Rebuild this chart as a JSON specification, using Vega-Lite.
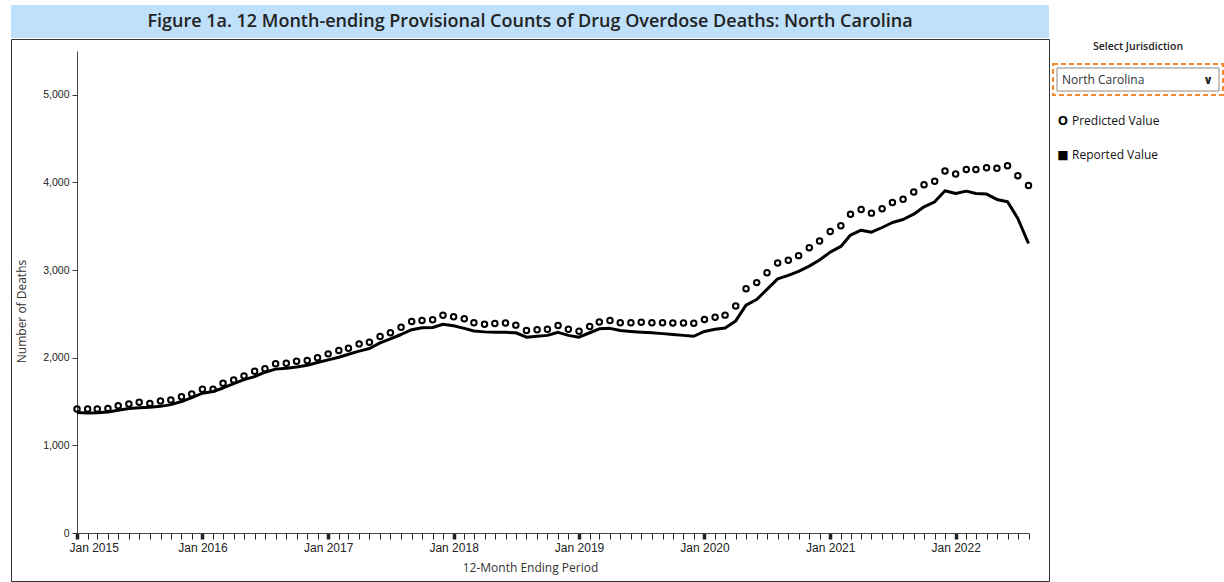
{
  "$schema": "https://vega.github.io/schema/vega-lite/v6.json",
  "padding": {"left": 10, "top": 5, "right": 0, "bottom": 0},
  "config": {"view": {"stroke": null}, "font": "Open Sans"},
  "datasets": {
    "nc": [
      {"m": "2015-01-01", "p": 1415, "r": 1376},
      {"m": "2015-02-01", "p": 1415, "r": 1370},
      {"m": "2015-03-01", "p": 1415, "r": 1372},
      {"m": "2015-04-01", "p": 1422, "r": 1380},
      {"m": "2015-05-01", "p": 1453, "r": 1400},
      {"m": "2015-06-01", "p": 1472, "r": 1420},
      {"m": "2015-07-01", "p": 1491, "r": 1430},
      {"m": "2015-08-01", "p": 1479, "r": 1435},
      {"m": "2015-09-01", "p": 1506, "r": 1445},
      {"m": "2015-10-01", "p": 1518, "r": 1465},
      {"m": "2015-11-01", "p": 1556, "r": 1500},
      {"m": "2015-12-01", "p": 1587, "r": 1545},
      {"m": "2016-01-01", "p": 1640, "r": 1595},
      {"m": "2016-02-01", "p": 1640, "r": 1615},
      {"m": "2016-03-01", "p": 1708, "r": 1655},
      {"m": "2016-04-01", "p": 1747, "r": 1705},
      {"m": "2016-05-01", "p": 1793, "r": 1750},
      {"m": "2016-06-01", "p": 1845, "r": 1785},
      {"m": "2016-07-01", "p": 1875, "r": 1835},
      {"m": "2016-08-01", "p": 1930, "r": 1870},
      {"m": "2016-09-01", "p": 1937, "r": 1880},
      {"m": "2016-10-01", "p": 1960, "r": 1895},
      {"m": "2016-11-01", "p": 1968, "r": 1915},
      {"m": "2016-12-01", "p": 1999, "r": 1945},
      {"m": "2017-01-01", "p": 2044, "r": 1976},
      {"m": "2017-02-01", "p": 2082, "r": 2005},
      {"m": "2017-03-01", "p": 2108, "r": 2040},
      {"m": "2017-04-01", "p": 2158, "r": 2075},
      {"m": "2017-05-01", "p": 2177, "r": 2105},
      {"m": "2017-06-01", "p": 2242, "r": 2170},
      {"m": "2017-07-01", "p": 2284, "r": 2215},
      {"m": "2017-08-01", "p": 2349, "r": 2265},
      {"m": "2017-09-01", "p": 2414, "r": 2320},
      {"m": "2017-10-01", "p": 2425, "r": 2342},
      {"m": "2017-11-01", "p": 2433, "r": 2345},
      {"m": "2017-12-01", "p": 2485, "r": 2382},
      {"m": "2018-01-01", "p": 2468, "r": 2365},
      {"m": "2018-02-01", "p": 2444, "r": 2335},
      {"m": "2018-03-01", "p": 2399, "r": 2305},
      {"m": "2018-04-01", "p": 2383, "r": 2295},
      {"m": "2018-05-01", "p": 2391, "r": 2292},
      {"m": "2018-06-01", "p": 2395, "r": 2290},
      {"m": "2018-07-01", "p": 2372, "r": 2285},
      {"m": "2018-08-01", "p": 2311, "r": 2235},
      {"m": "2018-09-01", "p": 2319, "r": 2245},
      {"m": "2018-10-01", "p": 2326, "r": 2255},
      {"m": "2018-11-01", "p": 2368, "r": 2290},
      {"m": "2018-12-01", "p": 2326, "r": 2255},
      {"m": "2019-01-01", "p": 2303, "r": 2234},
      {"m": "2019-02-01", "p": 2357, "r": 2285},
      {"m": "2019-03-01", "p": 2408, "r": 2330},
      {"m": "2019-04-01", "p": 2425, "r": 2335},
      {"m": "2019-05-01", "p": 2399, "r": 2310},
      {"m": "2019-06-01", "p": 2399, "r": 2300},
      {"m": "2019-07-01", "p": 2406, "r": 2292},
      {"m": "2019-08-01", "p": 2399, "r": 2285},
      {"m": "2019-09-01", "p": 2399, "r": 2275},
      {"m": "2019-10-01", "p": 2395, "r": 2265},
      {"m": "2019-11-01", "p": 2395, "r": 2255},
      {"m": "2019-12-01", "p": 2393, "r": 2245},
      {"m": "2020-01-01", "p": 2436, "r": 2300},
      {"m": "2020-02-01", "p": 2463, "r": 2325},
      {"m": "2020-03-01", "p": 2486, "r": 2340},
      {"m": "2020-04-01", "p": 2589, "r": 2420},
      {"m": "2020-05-01", "p": 2788, "r": 2600},
      {"m": "2020-06-01", "p": 2857, "r": 2665},
      {"m": "2020-07-01", "p": 2969, "r": 2780},
      {"m": "2020-08-01", "p": 3081, "r": 2900},
      {"m": "2020-09-01", "p": 3112, "r": 2940},
      {"m": "2020-10-01", "p": 3165, "r": 2986},
      {"m": "2020-11-01", "p": 3255, "r": 3045},
      {"m": "2020-12-01", "p": 3333, "r": 3115},
      {"m": "2021-01-01", "p": 3441, "r": 3205},
      {"m": "2021-02-01", "p": 3505, "r": 3270},
      {"m": "2021-03-01", "p": 3636, "r": 3400},
      {"m": "2021-04-01", "p": 3692, "r": 3455},
      {"m": "2021-05-01", "p": 3650, "r": 3432},
      {"m": "2021-06-01", "p": 3701, "r": 3486},
      {"m": "2021-07-01", "p": 3770, "r": 3543},
      {"m": "2021-08-01", "p": 3808, "r": 3577},
      {"m": "2021-09-01", "p": 3891, "r": 3638},
      {"m": "2021-10-01", "p": 3974, "r": 3722},
      {"m": "2021-11-01", "p": 4015, "r": 3779},
      {"m": "2021-12-01", "p": 4130, "r": 3905},
      {"m": "2022-01-01", "p": 4096, "r": 3874},
      {"m": "2022-02-01", "p": 4149, "r": 3901},
      {"m": "2022-03-01", "p": 4149, "r": 3874},
      {"m": "2022-04-01", "p": 4168, "r": 3867},
      {"m": "2022-05-01", "p": 4161, "r": 3806},
      {"m": "2022-06-01", "p": 4191, "r": 3779},
      {"m": "2022-07-01", "p": 4076, "r": 3589},
      {"m": "2022-08-01", "p": 3966, "r": 3303}
    ]
  },
  "spacing": 0,
  "vconcat": [
    {
      "width": 1038,
      "height": 33,
      "view": {"fill": "#bfe0fa", "stroke": null},
      "data": {"values": [{"t": "Figure 1a. 12 Month-ending Provisional Counts of Drug Overdose Deaths: North Carolina"}]},
      "mark": {"type": "text", "font": "Open Sans", "fontSize": 18, "fontWeight": 600, "color": "#222222", "align": "center", "baseline": "middle"},
      "encoding": {"text": {"field": "t"}}
    },
    {
      "spacing": 2,
      "hconcat": [
        {
          "width": 1038,
          "height": 542,
          "view": {"stroke": "#333333", "strokeWidth": 1},
          "data": {"name": "nc"},
          "encoding": {
            "x": {
              "field": "m",
              "type": "temporal",
              "scale": {"type": "utc", "nice": false, "range": [66, 1017.5]},
              "axis": {
                "title": "12-Month Ending Period",
                "offset": -48,
                "tickCount": {"interval": "month", "step": 1},
                "labelExpr": "utcmonth(datum.value) === 0 ? utcFormat(datum.value, '%b %Y') : ''",
                "labelOverlap": false,
                "labelBound": false,
                "labelFlush": true,
                "labelFlushOffset": 8,
                "labelFont": "Liberation Sans",
                "labelFontSize": 12,
                "labelColor": "#222222",
                "labelPadding": 3,
                "tickSize": 6,
                "tickColor": "#222222",
                "tickWidth": {"condition": {"test": "utcmonth(datum.value) === 0", "value": 3.5}, "value": 1},
                "domainColor": "#444444",
                "grid": false,
                "titleFont": "Open Sans",
                "titleFontSize": 12,
                "titleFontWeight": "normal",
                "titleColor": "#333333",
                "titlePadding": 9,
                "titleX": 519
              }
            }
          },
          "layer": [
            {
              "mark": {"type": "line", "color": "#000000", "strokeWidth": 3, "strokeJoin": "round"},
              "encoding": {
                "y": {
                  "field": "r",
                  "type": "quantitative",
                  "scale": {"domain": [0, 5500], "nice": false, "range": [494, 12]},
                  "axis": {
                    "title": "Number of Deaths",
                    "offset": -66,
                    "values": [0, 1000, 2000, 3000, 4000, 5000],
                    "format": ",.0f",
                    "labelFont": "Liberation Sans",
                    "labelFontSize": 10.5,
                    "labelColor": "#222222",
                    "labelPadding": 3,
                    "tickSize": 5,
                    "tickColor": "#333333",
                    "domainColor": "#444444",
                    "grid": false,
                    "titleFont": "Open Sans",
                    "titleFontSize": 12,
                    "titleFontWeight": "normal",
                    "titleColor": "#333333",
                    "titlePadding": 14,
                    "titleY": 272
                  }
                }
              }
            },
            {
              "mark": {"type": "point", "shape": "circle", "filled": false, "stroke": "#000000", "strokeWidth": 2, "size": 30, "opacity": 1},
              "encoding": {
                "y": {
                  "field": "p",
                  "type": "quantitative",
                  "scale": {"domain": [0, 5500], "nice": false, "range": [494, 12]},
                  "axis": {
                    "title": "Number of Deaths",
                    "offset": -66,
                    "values": [0, 1000, 2000, 3000, 4000, 5000],
                    "format": ",.0f",
                    "labelFont": "Liberation Sans",
                    "labelFontSize": 10.5,
                    "labelColor": "#222222",
                    "labelPadding": 3,
                    "tickSize": 5,
                    "tickColor": "#333333",
                    "domainColor": "#444444",
                    "grid": false,
                    "titleFont": "Open Sans",
                    "titleFontSize": 12,
                    "titleFontWeight": "normal",
                    "titleColor": "#333333",
                    "titlePadding": 14,
                    "titleY": 272
                  }
                }
              }
            }
          ]
        },
        {
          "spacing": 8,
          "vconcat": [
            {
              "width": 170,
              "height": 16,
              "data": {"values": [{"t": "Select Jurisdiction"}]},
              "mark": {"type": "text", "align": "center", "baseline": "middle", "font": "Open Sans", "fontSize": 10.5, "fontWeight": 600, "color": "#222222"},
              "encoding": {"text": {"field": "t"}}
            },
            {
              "width": 170,
              "height": 31,
              "view": {"stroke": "#f28a30", "strokeWidth": 2, "strokeDash": [5, 3]},
              "data": {"values": [{"t": "North Carolina"}]},
              "layer": [
                {
                  "mark": {"type": "point", "shape": "M-1,-0.142H1V0.142H-1Z", "size": 26244, "filled": false, "stroke": "#8a8a8a", "strokeWidth": 1, "opacity": 1}
                },
                {
                  "mark": {"type": "text", "align": "left", "baseline": "middle", "dx": -76, "font": "Open Sans", "fontSize": 12, "color": "#333333"},
                  "encoding": {"text": {"field": "t"}}
                },
                {
                  "mark": {"type": "text", "align": "center", "baseline": "middle", "dx": 70, "font": "DejaVu Sans", "fontSize": 12, "fontWeight": "bold", "color": "#222222"},
                  "encoding": {"text": {"value": "∨"}}
                }
              ]
            },
            {
              "width": 170,
              "height": 68,
              "data": {"values": [{"s": "Predicted Value"}, {"s": "Reported Value"}]},
              "encoding": {
                "y": {"field": "s", "type": "nominal", "sort": null, "scale": {"type": "point", "padding": 0.5}, "axis": null}
              },
              "layer": [
                {
                  "transform": [{"filter": "datum.s === 'Predicted Value'"}],
                  "mark": {"type": "text", "align": "center", "baseline": "middle", "dx": -75, "font": "Open Sans", "fontSize": 13, "fontWeight": "bold", "color": "#000000"},
                  "encoding": {"text": {"value": "O"}}
                },
                {
                  "transform": [{"filter": "datum.s === 'Reported Value'"}],
                  "mark": {"type": "text", "align": "center", "baseline": "middle", "dx": -75, "font": "DejaVu Sans", "fontSize": 12, "color": "#000000"},
                  "encoding": {"text": {"value": "■"}}
                },
                {
                  "mark": {"type": "text", "align": "left", "baseline": "middle", "dx": -66, "font": "Open Sans", "fontSize": 12, "fontWeight": 500, "color": "#111111"},
                  "encoding": {"text": {"field": "s"}}
                }
              ]
            }
          ]
        }
      ]
    }
  ]
}
